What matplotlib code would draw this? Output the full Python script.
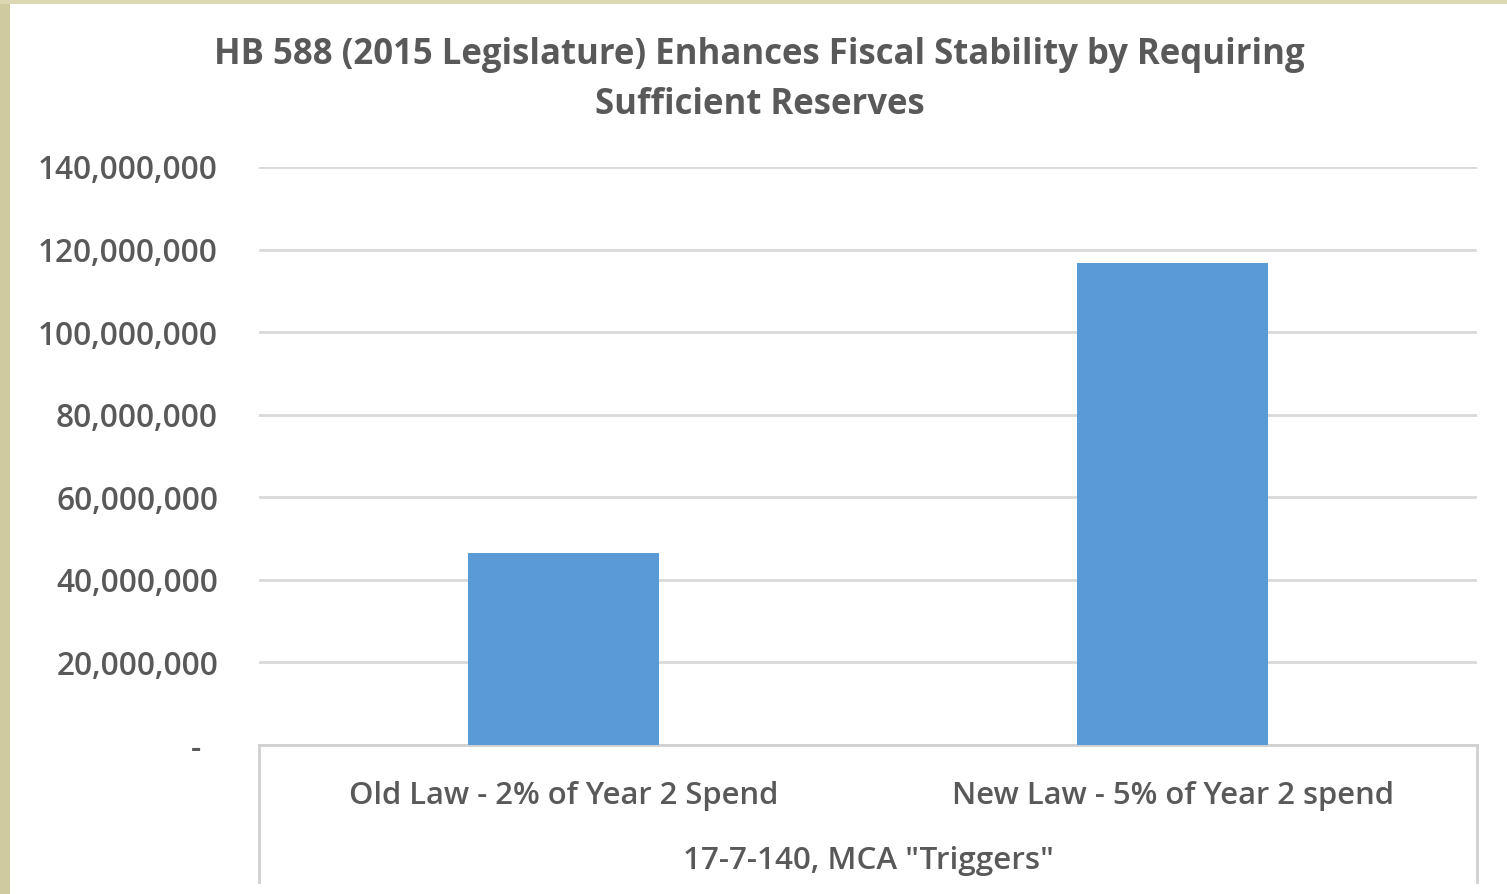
import matplotlib
matplotlib.use('Agg')
import matplotlib.pyplot as plt
from matplotlib.lines import Line2D
from matplotlib.patches import Rectangle
from matplotlib.ticker import FuncFormatter

# ─────────────────────────────────────────────
# DATA
# ─────────────────────────────────────────────
categories = ['Old Law - 2% of Year 2 Spend', 'New Law - 5% of Year 2 spend']
reserves = [46_500_000, 116_700_000]
group_label = '17-7-140, MCA "Triggers"'
title = 'HB 588 (2015 Legislature) Enhances Fiscal Stability by Requiring\nSufficient Reserves'
y_ticks = [0, 20e6, 40e6, 60e6, 80e6, 100e6, 120e6, 140e6]

plt.rcParams['font.family'] = ['Open Sans', 'DejaVu Sans']
TXT = '#595959'
GRID = '#d9d9d9'
BAR = '#5b9bd5'

W, H = 1507, 894
fig = plt.figure(figsize=(W / 100, H / 100), dpi=100, facecolor='white')

# blurred photo edge behind the slide panel
fig.patches.append(Rectangle((0, 0), 10 / W, 1, transform=fig.transFigure,
                             facecolor='#cfcaa0', edgecolor='none', zorder=-5))
fig.patches.append(Rectangle((0, 1 - 4 / H), 1, 4 / H, transform=fig.transFigure,
                             facecolor='#ddd8b4', edgecolor='none', zorder=-5))

x0, x1 = 259 / W, 1477 / W
y0, y1 = 1 - 745 / H, 1 - 167 / H
ax = fig.add_axes([x0, y0, x1 - x0, y1 - y0])

xs = range(len(categories))
ax.bar(xs, reserves, width=0.314, color=BAR, zorder=3)
ax.set_xlim(-0.5, len(categories) - 0.5)
ax.set_ylim(0, 140e6)
ax.set_yticks(y_ticks)
# accounting style: zero shows as a dash set in from the right edge
ax.yaxis.set_major_formatter(FuncFormatter(lambda v, p: '-  ' if v == 0 else f'{v:,.0f}'))
ax.grid(axis='y', color=GRID, linewidth=2, zorder=0)
ax.tick_params(axis='y', length=0, pad=29.5, labelsize=22.8, labelcolor=TXT)
ax.set_xticks(list(xs))
ax.set_xticklabels(categories, fontweight='semibold')
for lbl in ax.get_yticklabels():
    lbl.set_fontweight('semibold')
ax.tick_params(axis='x', length=0, pad=26, labelsize=22.3, labelcolor=TXT)
for s in ['top', 'right', 'left']:
    ax.spines[s].set_visible(False)
ax.spines['bottom'].set_color('#d0d0d0')
ax.spines['bottom'].set_linewidth(2)

# multi-level category box lines
for xx in (x0, x1):
    fig.add_artist(Line2D([xx, xx], [y0, 1 - 882 / H], color='#d0d0d0', linewidth=2))

fig.text((x0 + x1) / 2, 1 - 861 / H, group_label, ha='center', va='center',
         fontsize=22.6, fontweight='semibold', color=TXT)

fig.text(759.5 / W, 1 - 80 / H, title, ha='center', va='center', fontsize=25,
         fontweight='bold', color=TXT, linespacing=1.54)

fig.savefig('out.png', dpi=100, facecolor='white')
